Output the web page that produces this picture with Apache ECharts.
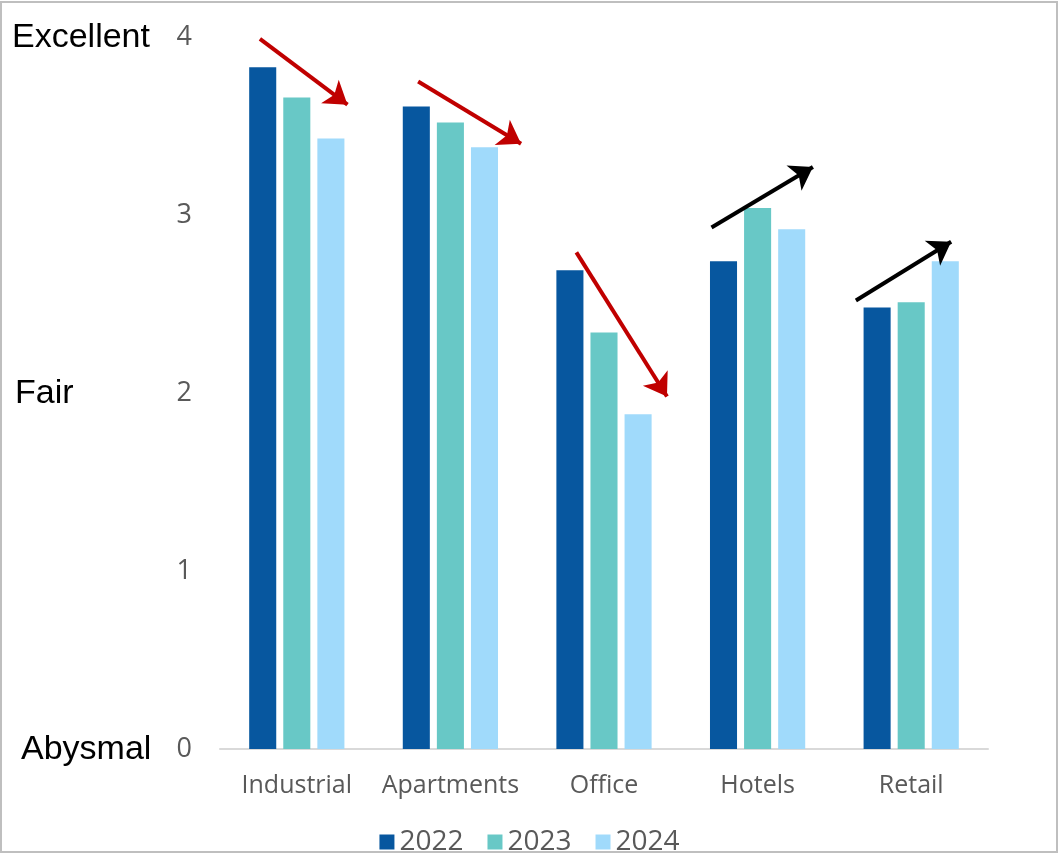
<!DOCTYPE html>
<html>
<head>
<meta charset="utf-8">
<script src="https://cdn.jsdelivr.net/npm/echarts@6/dist/echarts.min.js"></script>
<style>
  html, body { margin: 0; padding: 0; background: #fff; }
  #chart { width: 1059px; height: 854px; }
</style>
</head>
<body>
<div id="chart"></div>
<script>
// Property sector outlook scores, 0 (Abysmal) to 4 (Excellent)
const categories = ['Industrial', 'Apartments', 'Office', 'Hotels', 'Retail'];
const years = ['2022', '2023', '2024'];
const values2022 = [3.83, 3.61, 2.69, 2.74, 2.48];
const values2023 = [3.66, 3.52, 2.34, 3.04, 2.51];
const values2024 = [3.43, 3.38, 1.88, 2.92, 2.74];
const yearColors = ['#07579F', '#68C8C6', '#A0DAFB'];

// Qualitative labels for chosen score levels
const scaleWords = [
  { value: 4, text: 'Excellent', left: 12 },
  { value: 2, text: 'Fair', left: 15 },
  { value: 0, text: 'Abysmal', left: 21 }
];

// Trend arrows in (category position 0..5, score) units
const trendArrows = [
  { from: [0.26, 3.99], to: [0.83, 3.62], color: '#C00000' },
  { from: [1.29, 3.75], to: [1.96, 3.40], color: '#C00000' },
  { from: [2.32, 2.79], to: [2.91, 1.98], color: '#C00000' },
  { from: [3.20, 2.93], to: [3.86, 3.27], color: '#000000' },
  { from: [4.14, 2.52], to: [4.76, 2.85], color: '#000000' }
];

const chart = echarts.init(document.getElementById('chart'), null, { renderer: 'canvas' });

const labelFont = '"Open Sans", "DejaVu Sans", sans-serif';
const wordFont = '"Liberation Sans", Arial, sans-serif';

const seriesValues = [values2022, values2023, values2024];
const barSeries = years.map((y, i) => ({
  name: y,
  type: 'bar',
  xAxisIndex: 0,
  yAxisIndex: 0,
  data: seriesValues[i],
  barGap: '26%',
  barCategoryGap: '38%',
  itemStyle: { color: yearColors[i] },
  emphasis: { disabled: true }
}));

const arrowSeries = {
  type: 'lines',
  coordinateSystem: 'cartesian2d',
  xAxisIndex: 1,
  yAxisIndex: 0,
  symbol: ['none', 'arrow'],
  symbolSize: 22,
  silent: true,
  data: trendArrows.map(a => ({
    coords: [a.from, a.to],
    lineStyle: { color: a.color, width: 4, opacity: 1 }
  })),
  lineStyle: { width: 4, opacity: 1, curveness: 0 },
  z: 5
};

chart.setOption({
  animation: false,
  grid: { left: 220, right: 71, top: 37, bottom: 105, containLabel: false },
  legend: {
    data: years,
    top: 823,
    left: 'center',
    itemWidth: 15,
    itemHeight: 15,
    itemGap: 24,
    itemStyle: { borderWidth: 0 },
    icon: 'rect',
    textStyle: { fontSize: 28, color: '#595959', fontFamily: labelFont }
  },
  xAxis: [
    {
      type: 'category',
      data: categories,
      axisLine: { lineStyle: { color: '#D9D9D9', width: 2 } },
      axisTick: { show: false },
      axisLabel: { interval: 0, fontSize: 25, color: '#595959', margin: 24, fontFamily: labelFont }
    },
    {
      type: 'value',
      min: 0,
      max: 5,
      show: false
    }
  ],
  yAxis: {
    type: 'value',
    min: 0,
    max: 4,
    interval: 1,
    axisLine: { show: false },
    axisTick: { show: false },
    splitLine: { show: false },
    axisLabel: { fontSize: 27, color: '#595959', margin: 28, fontFamily: labelFont }
  },
  series: [...barSeries, arrowSeries]
});

// Place qualitative words beside their score levels, plus the outer frame
const words = scaleWords.map(w => ({
  type: 'text',
  left: w.left,
  top: chart.convertToPixel({ yAxisIndex: 0 }, w.value) - 16,
  style: { text: w.text, fontSize: 34, fill: '#000', fontFamily: wordFont }
}));
chart.setOption({
  graphic: [
    {
      type: 'rect',
      shape: { x: 1, y: 2, width: 1056, height: 850 },
      style: { fill: 'none', stroke: '#BFBFBF', lineWidth: 2 },
      silent: true
    },
    ...words
  ]
});
</script>
</body>
</html>
